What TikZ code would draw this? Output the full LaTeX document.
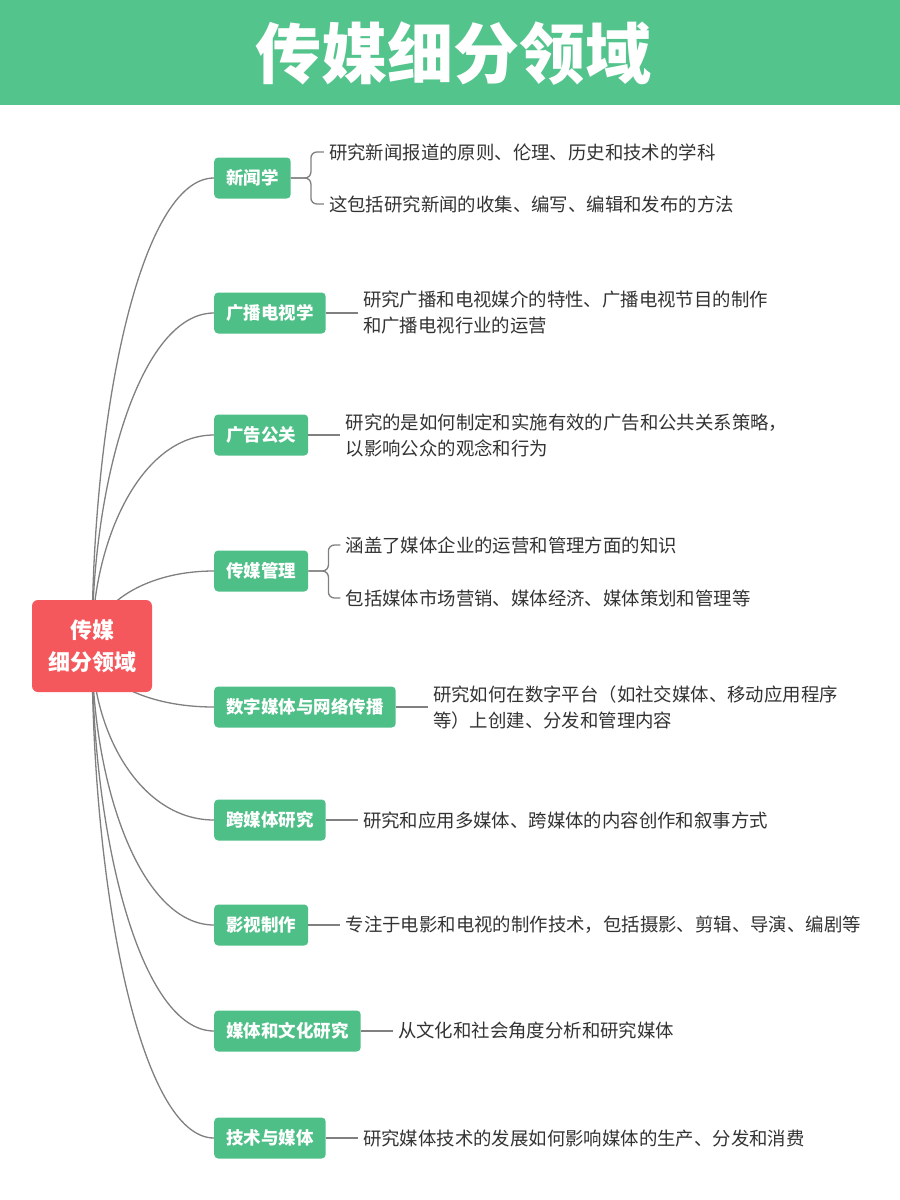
\documentclass[tikz,border=0pt]{standalone}
\usepackage{fontspec}
\setmainfont{Noto Sans CJK SC}
\usetikzlibrary{calc,backgrounds}
\definecolor{titlegreen}{HTML}{54C48D}
\definecolor{nodegreen}{HTML}{4FBF88}
\definecolor{rootred}{HTML}{F4575C}
\definecolor{leafgray}{HTML}{333333}
\definecolor{linegray}{HTML}{808080}
\tikzset{
  branchbox/.style={fill=nodegreen, rounded corners=4pt, text=white, font=\fontsize{17.5}{20}\selectfont\bfseries,
    minimum height=41pt, inner xsep=12pt, inner ysep=0pt, anchor=west},
  rootbox/.style={fill=rootred, rounded corners=6pt, text=white, font=\fontsize{22}{32}\selectfont\bfseries,
    minimum width=120pt, minimum height=92pt, align=center, inner sep=0pt},
  leaftext/.style={text=leafgray, font=\fontsize{18.4}{26}\selectfont, align=left, anchor=west, inner xsep=5pt, inner ysep=0pt},
  conn/.style={draw=linegray, line width=1.3pt},
  brack/.style={conn, rounded corners=6pt}
}
\begin{document}
\begin{tikzpicture}[x=1pt,y=1pt]
\useasboundingbox (0,0) rectangle (900,-1200);
% title
\fill[titlegreen] (0,0) rectangle (900,-105);
\node[text=white, font=\fontsize{66}{66}\selectfont\bfseries] (title) at (453,-54) {传媒细分领域};
% root
\node[rootbox] (root) at (92,-646) {传媒\\细分领域};
% branches
\node[branchbox] (n1) at (214,-178) {新闻学};
\node[branchbox] (n2) at (214,-313) {广播电视学};
\node[branchbox] (n3) at (214,-435) {广告公关};
\node[branchbox] (n4) at (214,-571) {传媒管理};
\node[branchbox] (n5) at (214,-707) {数字媒体与网络传播};
\node[branchbox] (n6) at (214,-820) {跨媒体研究};
\node[branchbox] (n7) at (214,-925) {影视制作};
\node[branchbox] (n8) at (214,-1031) {媒体和文化研究};
\node[branchbox] (n9) at (214,-1138) {技术与媒体};
% leaves
\node[leaftext] (l1a) at ($(n1.east)+(33,26)$) {研究新闻报道的原则、伦理、历史和技术的学科};
\node[leaftext] (l1b) at ($(n1.east)+(33,-26)$) {这包括研究新闻的收集、编写、编辑和发布的方法};
\node[leaftext] (l2) at ($(n2.east)+(32,0)$) {研究广播和电视媒介的特性、广播电视节目的制作\\和广播电视行业的运营};
\node[leaftext] (l3) at ($(n3.east)+(32,0)$) {研究的是如何制定和实施有效的广告和公共关系策略，\\以影响公众的观念和行为};
\node[leaftext] (l4a) at ($(n4.east)+(32,26)$) {涵盖了媒体企业的运营和管理方面的知识};
\node[leaftext] (l4b) at ($(n4.east)+(32,-27)$) {包括媒体市场营销、媒体经济、媒体策划和管理等};
\node[leaftext] (l5) at ($(n5.east)+(32,0)$) {研究如何在数字平台（如社交媒体、移动应用程序\\等）上创建、分发和管理内容};
\node[leaftext] (l6) at ($(n6.east)+(32,0)$) {研究和应用多媒体、跨媒体的内容创作和叙事方式};
\node[leaftext] (l7) at ($(n7.east)+(32,0)$) {专注于电影和电视的制作技术，包括摄影、剪辑、导演、编剧等};
\node[leaftext] (l8) at ($(n8.east)+(32,0)$) {从文化和社会角度分析和研究媒体};
\node[leaftext] (l9) at ($(n9.east)+(32,0)$) {研究媒体技术的发展如何影响媒体的生产、分发和消费};
% leaf connectors
\draw[brack] (n1.east) -- ++(20,0) |- (l1a.west);
\draw[brack] (n1.east) -- ++(20,0) |- (l1b.west);
\draw[brack] (n4.east) -- ++(20,0) |- (l4a.west);
\draw[brack] (n4.east) -- ++(20,0) |- (l4b.west);
\foreach \k in {2,3,5,6,7,8,9} \draw[conn] (n\k.east) -- (l\k.west);
% root connectors (behind)
\begin{scope}[on background layer]
\fill[white] (0,-105) rectangle (900,-1200);
\foreach \n in {n1,n2,n3,n4,n5,n6,n7,n8,n9}
  \draw[conn] (root.center) .. controls ($(root.center)!0.5!(root.center |- \n.west)$) and ($(\n.west)!0.6!(\n.west -| root.center)$) .. (\n.west);
\end{scope}
\end{tikzpicture}
\end{document}
